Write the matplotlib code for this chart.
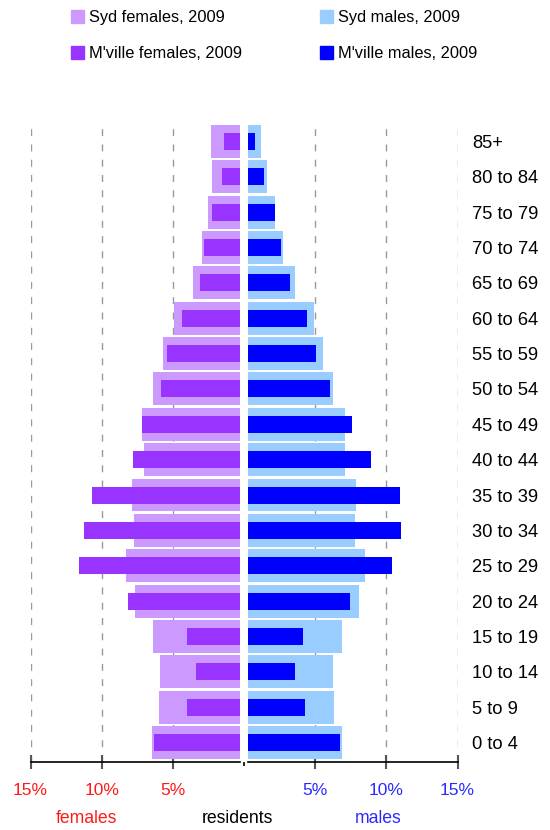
import numpy as np
import matplotlib.pyplot as plt
from matplotlib.patches import Patch

plt.rcParams['font.family'] = ['Liberation Sans', 'DejaVu Sans']

# age groups, bottom to top
ages = ['0 to 4', '5 to 9', '10 to 14', '15 to 19', '20 to 24', '25 to 29',
        '30 to 34', '35 to 39', '40 to 44', '45 to 49', '50 to 54', '55 to 59',
        '60 to 64', '65 to 69', '70 to 74', '75 to 79', '80 to 84', '85+']

# % of residents
syd_f = [6.44, 5.95, 5.88, 6.37, 7.64, 8.27, 7.71, 7.85, 7.01, 7.15,
         6.37, 5.67, 4.89, 3.56, 2.92, 2.50, 2.22, 2.29]
mv_f = [6.30, 3.98, 3.35, 3.98, 8.13, 11.58, 11.23, 10.67, 7.78, 7.15,
        5.81, 5.39, 4.33, 3.06, 2.78, 2.22, 1.58, 1.44]
syd_m = [6.87, 6.30, 6.23, 6.87, 8.06, 8.49, 7.78, 7.85, 7.08, 7.08,
         6.23, 5.53, 4.89, 3.56, 2.71, 2.15, 1.58, 1.16]
mv_m = [6.73, 4.26, 3.56, 4.12, 7.43, 10.39, 11.02, 10.95, 8.91, 7.57,
        6.02, 5.03, 4.40, 3.20, 2.57, 2.15, 1.37, 0.74]

xticks = [-15, -10, -5, 5, 10, 15]
xticklabels = ['15%', '10%', '5%', '5%', '10%', '15%']

c_syd_f = '#cc99ff'
c_mv_f = '#9933ff'
c_syd_m = '#99ccff'
c_mv_m = '#0000ff'
red = '#ff1a1a'
blue = '#2a2aff'

fig = plt.figure(figsize=(5.5, 8.3), dpi=100)
ax = fig.add_axes([0.0555, 0.0819, 0.7764, 0.7699])

y = np.arange(len(ages))
ax.barh(y, -np.array(syd_f), height=0.93, color=c_syd_f, zorder=2)
ax.barh(y, -np.array(mv_f), height=0.48, color=c_mv_f, zorder=3)
ax.barh(y, syd_m, height=0.93, color=c_syd_m, zorder=2)
ax.barh(y, mv_m, height=0.48, color=c_mv_m, zorder=3)

# white gap down the middle
ax.axvspan(-0.26, 0.26, color='white', zorder=4, lw=0)

ax.set_xlim(-15, 15)
ax.set_ylim(-0.55, 17.52)

ax.set_xticks(xticks)
ax.set_xticklabels(xticklabels, fontsize=12.5)
for lbl, x in zip(ax.get_xticklabels(), xticks):
    lbl.set_color(red if x < 0 else blue)
ax.tick_params(axis='x', direction='inout', length=9.4, width=1.5,
               color='#555555', pad=10.2)
ax.set_xticks([0], minor=True)
ax.tick_params(axis='x', which='minor', direction='out', length=3,
               width=1.2, color='black')

ax.yaxis.tick_right()
ax.set_yticks(y)
ax.set_yticklabels(ages, fontsize=13.2)
ax.tick_params(axis='y', length=0, pad=10.4)

ax.grid(axis='x', linestyle=(0, (5, 6)), color='#999999', linewidth=1)
ax.set_axisbelow(True)

for s in ax.spines.values():
    s.set_visible(False)
# bottom axis line, broken at the centre
tr = ax.get_xaxis_transform()
ax.plot([-15, -0.26], [0, 0], transform=tr, color='black', lw=1.2, clip_on=False, zorder=5)
ax.plot([0.26, 15], [0, 0], transform=tr, color='black', lw=1.2, clip_on=False, zorder=5)

ax.text(-11.1, -0.0876, 'females', transform=tr, ha='center', va='center',
        color=red, fontsize=12.7)
ax.text(-0.45, -0.0876, 'residents', transform=tr, ha='center', va='center',
        color='black', fontsize=12.7)
ax.text(9.4, -0.0876, 'males', transform=tr, ha='center', va='center',
        color=blue, fontsize=12.7)

handles = [Patch(color=c_syd_f, label='Syd females, 2009'),
           Patch(color=c_mv_f, label="M'ville females, 2009"),
           Patch(color=c_syd_m, label='Syd males, 2009'),
           Patch(color=c_mv_m, label="M'ville males, 2009")]
fig.legend(handles=handles, ncol=2, loc='upper left',
           bbox_to_anchor=(0.129, 0.988), frameon=False, fontsize=11.8,
           handlelength=0.8, handleheight=0.8, handletextpad=0.3,
           labelspacing=1.3, columnspacing=4.75, borderpad=0, borderaxespad=0)

fig.savefig('out.png', dpi=100)
